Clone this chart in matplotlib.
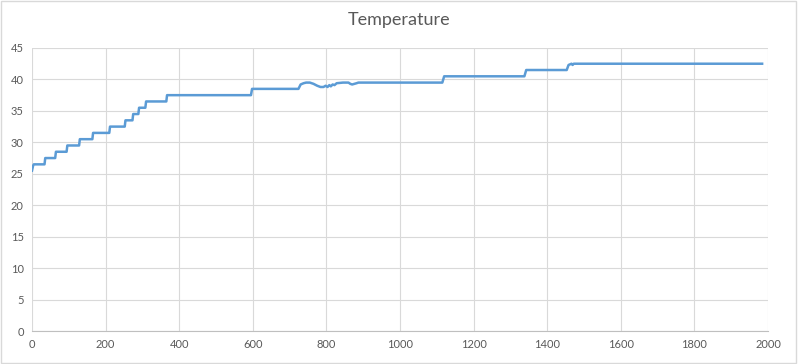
import matplotlib
matplotlib.use('Agg')
import matplotlib.pyplot as plt

# time (s) and temperature readings
time_s = [0, 3, 5, 34, 36, 63, 65, 94, 96, 128, 130, 164, 166, 210, 212,
          252, 254, 273, 275, 289, 291, 308, 310, 365, 367, 595, 598,
          724, 730, 738, 745, 755, 765, 775, 784, 792, 798, 803, 808, 812,
          817, 822, 828, 845, 860, 865, 870, 876, 882, 887, 900,
          1115, 1120, 1338, 1343, 1453, 1458, 1466, 1469, 1472, 1984]
temp_c = [25.5, 26.3, 26.5, 26.5, 27.5, 27.5, 28.5, 28.5, 29.5, 29.5, 30.5, 30.5, 31.5, 31.5, 32.5,
          32.5, 33.5, 33.5, 34.5, 34.5, 35.5, 35.5, 36.5, 36.5, 37.5, 37.5, 38.5,
          38.5, 39.2, 39.4, 39.5, 39.5, 39.3, 39.0, 38.8, 38.8, 39.0, 38.8, 39.1, 38.9,
          39.2, 39.1, 39.4, 39.5, 39.5, 39.3, 39.2, 39.3, 39.4, 39.5, 39.5,
          39.5, 40.5, 40.5, 41.5, 41.5, 42.3, 42.5, 42.3, 42.5, 42.5]

x_ticks = list(range(0, 2001, 200))
y_ticks = list(range(0, 46, 5))

plt.rcParams['font.family'] = ['Lato', 'DejaVu Sans']

fig = plt.figure(figsize=(7.98, 3.64), dpi=100)
ax = fig.add_axes([32 / 798, 33 / 364, 736 / 798, 283 / 364])

ax.plot(time_s, temp_c, color='#5B9BD5', linewidth=1.8, solid_joinstyle='round')

ax.set_xlim(0, 2000)
ax.set_ylim(0, 45)
ax.set_xticks(x_ticks)
ax.set_yticks(y_ticks)
ax.grid(True, color='#D9D9D9', linewidth=0.8)
ax.set_axisbelow(True)
for side in ['top', 'right', 'left']:
    ax.spines[side].set_visible(False)
ax.spines['bottom'].set_color('#BFBFBF')
ax.tick_params(length=0, labelsize=8, labelcolor='#595959', pad=6)

fig.text(0.5, 1 - 20 / 364, 'Temperature', ha='center', va='center',
         fontsize=13, color='#595959')

# light chart border
fig.patches.append(plt.Rectangle((0.001, 0.002), 0.997, 0.995, transform=fig.transFigure,
                                 fill=False, edgecolor='#D9D9D9', linewidth=1))

fig.savefig('out.png', dpi=100)
